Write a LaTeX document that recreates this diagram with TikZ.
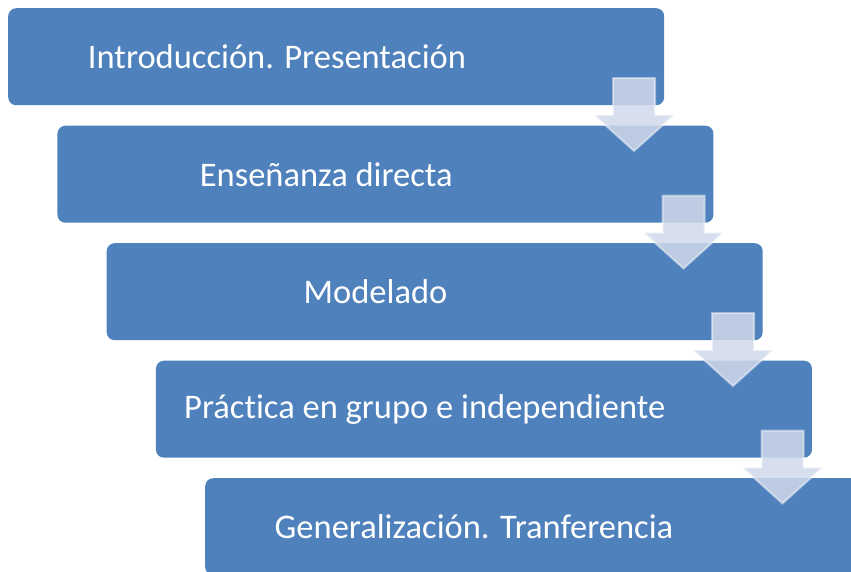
\documentclass[tikz,border=0pt]{standalone}
\usepackage{fontspec}
\setmainfont[Ligatures={NoCommon}]{Carlito}
\definecolor{boxblue}{RGB}{79,129,189}
\definecolor{arrowfill}{RGB}{208,217,234}
\tikzset{
  stepbox/.style={fill=boxblue, draw=none, rounded corners=8pt, minimum width=656pt, minimum height=97pt, anchor=north west, inner sep=0pt},
  steptext/.style={text=white, font=\fontsize{34.5}{40}\selectfont, anchor=center},
  downarrow/.style={fill=arrowfill, fill opacity=0.86, draw=white, draw opacity=0.45, line width=2pt, line join=miter}
}
\newcommand{\myarrow}[2]{%
  \path[downarrow] (#1-21,#2-73) -- (#1+21,#2-73) -- (#1+21,#2-36) -- (#1+40,#2-36) -- (#1,#2) -- (#1-40,#2-36) -- (#1-21,#2-36) -- cycle;}
\begin{document}
\begin{tikzpicture}[x=1pt,y=-1pt]
\useasboundingbox (0,0) rectangle (851,571);
\clip (0,0) rectangle (851,571);
\node[stepbox] (b1) at (8,8) {};
\node[stepbox] (b2) at (57.25,125.5) {};
\node[stepbox] (b3) at (106.5,243) {};
\node[stepbox] (b4) at (155.75,360.5) {};
\node[stepbox] (b5) at (205,478) {};
\node[steptext] (t1) at ([xshift=269pt]b1.west) {Introducción. Presentación};
\node[steptext] (t2) at ([xshift=269pt]b2.west) {Enseñanza directa};
\node[steptext] (t3) at ([xshift=269pt]b3.west) {Modelado};
\node[steptext] (t4) at ([xshift=269pt]b4.west) {Práctica en grupo e independiente};
\node[steptext] (t5) at ([xshift=269pt]b5.west) {Generalización. Tranferencia};
\myarrow{634}{151}
\myarrow{683.5}{268.5}
\myarrow{733}{386}
\myarrow{782.5}{503.5}
\end{tikzpicture}
\end{document}
